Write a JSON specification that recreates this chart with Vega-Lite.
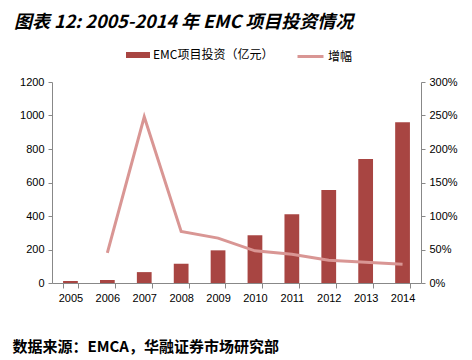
{
  "$schema": "https://vega.github.io/schema/vega-lite/v6.json",
  "width": 369,
  "height": 201,
  "autosize": "none",
  "padding": {"left": 52, "top": 82, "right": 51, "bottom": 77},
  "background": "white",
  "title": {
    "text": "图表 12: 2005-2014 年 EMC 项目投资情况",
    "anchor": "start",
    "frame": "group",
    "dx": -38,
    "offset": 10,
    "font": "Noto Sans CJK SC",
    "fontSize": 18,
    "fontWeight": "bold",
    "fontStyle": "italic",
    "color": "#000000"
  },
  "data": {
    "values": [
      {"year": "2005", "invest": 12, "growth": null},
      {"year": "2006", "invest": 18, "growth": 0.45},
      {"year": "2007", "invest": 65, "growth": 2.48},
      {"year": "2008", "invest": 115, "growth": 0.77},
      {"year": "2009", "invest": 195, "growth": 0.67},
      {"year": "2010", "invest": 285, "growth": 0.48},
      {"year": "2011", "invest": 410, "growth": 0.43},
      {"year": "2012", "invest": 555, "growth": 0.34},
      {"year": "2013", "invest": 740, "growth": 0.31},
      {"year": "2014", "invest": 960, "growth": 0.28}
    ]
  },
  "encoding": {
    "x": {
      "field": "year",
      "type": "nominal",
      "scale": {"paddingInner": 0.6, "paddingOuter": 0.3},
      "axis": {
        "title": "数据来源：EMCA，华融证券市场研究部",
        "titleFont": "Noto Sans CJK SC",
        "titleFontSize": 15,
        "titleFontWeight": "bold",
        "titleColor": "#000000",
        "titleAnchor": "start",
        "titleAlign": "left",
        "titleBaseline": "alphabetic",
        "titleX": -40,
        "titleY": 68,
        "labelAngle": 0,
        "labelFont": "Liberation Sans",
        "labelFontSize": 11,
        "labelColor": "#000000",
        "labelPadding": 4,
        "tickBand": "extent",
        "tickSize": 5,
        "tickColor": "#888888",
        "domainColor": "#888888",
        "grid": false
      }
    }
  },
  "layer": [
    {
      "mark": {"type": "bar", "color": "#A84542"},
      "encoding": {
        "y": {
          "field": "invest",
          "type": "quantitative",
          "scale": {"domain": [0, 1200]},
          "axis": {
            "orient": "left",
            "title": null,
            "values": [0, 200, 400, 600, 800, 1000, 1200],
            "format": "d",
            "grid": false,
            "labelFont": "Liberation Sans",
            "labelFontSize": 11,
            "labelColor": "#000000",
            "labelPadding": 4,
            "tickSize": 4,
            "tickColor": "#888888",
            "domainColor": "#888888"
          }
        },
        "fill": {
          "datum": "EMC项目投资（亿元）",
          "type": "nominal",
          "scale": {"range": ["#A84542"]},
          "legend": {
            "orient": "none",
            "legendX": 74,
            "legendY": -39,
            "padding": 0,
            "title": null,
            "symbolType": "M-1,-0.25H1V0.25H-1Z",
            "symbolSize": 576,
            "symbolStrokeWidth": 0,
            "labelFont": "Noto Sans CJK SC",
            "labelFontSize": 12,
            "labelColor": "#000000",
            "labelOffset": 3
          }
        }
      }
    },
    {
      "mark": {"type": "line", "color": "#D99694", "strokeWidth": 3},
      "encoding": {
        "y": {
          "field": "growth",
          "type": "quantitative",
          "scale": {"domain": [0, 3]},
          "axis": {
            "orient": "right",
            "title": null,
            "values": [0, 0.5, 1, 1.5, 2, 2.5, 3],
            "format": ".0%",
            "grid": false,
            "labelFont": "Liberation Sans",
            "labelFontSize": 11,
            "labelColor": "#000000",
            "labelPadding": 4,
            "tickSize": 4,
            "tickColor": "#888888",
            "domainColor": "#888888"
          }
        },
        "stroke": {
          "datum": "增幅",
          "type": "nominal",
          "scale": {"range": ["#D99694"]},
          "legend": {
            "orient": "none",
            "legendX": 244,
            "legendY": -40,
            "padding": 0,
            "title": null,
            "symbolType": "stroke",
            "symbolSize": 676,
            "symbolStrokeWidth": 3,
            "labelFont": "Noto Sans CJK SC",
            "labelFontSize": 12,
            "labelColor": "#000000",
            "labelOffset": 3
          }
        }
      }
    }
  ],
  "resolve": {"scale": {"y": "independent", "fill": "independent", "stroke": "independent"}},
  "config": {"view": {"stroke": null}}
}
